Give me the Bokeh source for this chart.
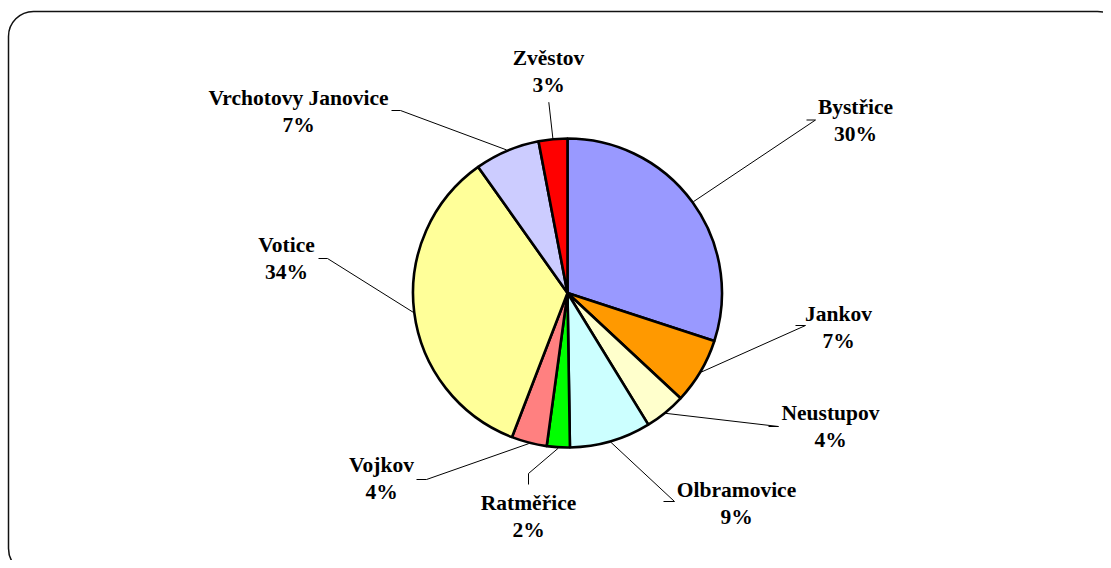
import math
from bokeh.plotting import figure
from bokeh.models import Range1d, BoxAnnotation, ColumnDataSource
from bokeh.core.properties import value
from bokeh.embed import file_html
from bokeh.resources import INLINE

# ---- data ----
names = ["Bystřice", "Jankov", "Neustupov", "Olbramovice", "Ratměřice",
         "Vojkov", "Votice", "Vrchotovy Janovice", "Zvěstov"]
shares = [30.0, 6.9, 4.3, 8.5, 2.4, 3.7, 34.3, 6.8, 3.0]
pct_labels = ["30%", "7%", "4%", "9%", "2%", "4%", "34%", "7%", "3%"]
colors = ["#9999FF", "#FF9900", "#FFFFCC", "#CCFFFF", "#00FF00",
          "#FF8080", "#FFFF99", "#CCCCFF", "#FF0000"]

# ---- layout (screenshot pixel coordinates, y downward) ----
W, H = 1103, 560
cx, cy, R = 567, 292.5, 154.5
label_cx = [855, 838, 830, 736, 528, 381, 286, 298, 548]
label_cy = [120, 326.5, 426, 502.5, 515.5, 478, 258, 110.5, 71]
elbow_a = [(806, 119.5), (795, 325), (768, 426), (663, 501), (528, 484),
           (416, 479), (318, 258), (391, 110), (548.3, 101.7)]
elbow_b = [(815, 119.5), (805, 325), (778, 426), (674, 501), (528, 473),
           (426, 479), (327, 258), (400, 110), (548.3, 101.7)]
line_gap = 13.5


def Y(y):
    return H - y


p = figure(width=W, height=H, output_backend="svg", toolbar_location=None,
           x_range=Range1d(0, W), y_range=Range1d(0, H), min_border=0)
p.axis.visible = False
p.grid.visible = False
p.outline_line_color = None
p.background_fill_color = "white"
p.border_fill_color = "white"

# rounded frame
p.add_layout(BoxAnnotation(left=8, right=1122, top=Y(11), bottom=Y(573),
                           fill_alpha=0, line_color="#111111", line_alpha=1,
                           line_width=1.5, border_radius=25))

# wedges
total = sum(shares)
starts, ends, mids = [], [], []
acc = 0.0
for s in shares:
    a0 = math.pi / 2 - 2 * math.pi * acc / total
    acc += s
    a1 = math.pi / 2 - 2 * math.pi * acc / total
    starts.append(a0)
    ends.append(a1)
    mids.append((a0 + a1) / 2)

src = ColumnDataSource(dict(start=starts, end=ends, color=colors, name=names))
p.wedge(x=cx, y=Y(cy), radius=R, start_angle="start", end_angle="end",
        direction="clock", fill_color="color", line_color="black",
        line_width=2.6, source=src)

# leader lines
xs, ys = [], []
for m, a, b in zip(mids, elbow_a, elbow_b):
    px = cx + (R + 1) * math.cos(m)
    py = cy - (R + 1) * math.sin(m)
    xs.append([px, b[0], a[0]])
    ys.append([Y(py), Y(b[1]), Y(a[1])])
p.multi_line(xs=xs, ys=ys, line_color="black", line_width=1)

# labels
for txt, dy in ((names, -line_gap), (pct_labels, line_gap)):
    p.text(x=label_cx, y=[Y(v + dy) for v in label_cy], text=txt,
           text_font=value("Liberation Serif"), text_font_style="bold",
           text_font_size="21.5px", text_align="center",
           text_baseline="middle", text_color="black")

open("out.html", "w").write(file_html(p, INLINE))
